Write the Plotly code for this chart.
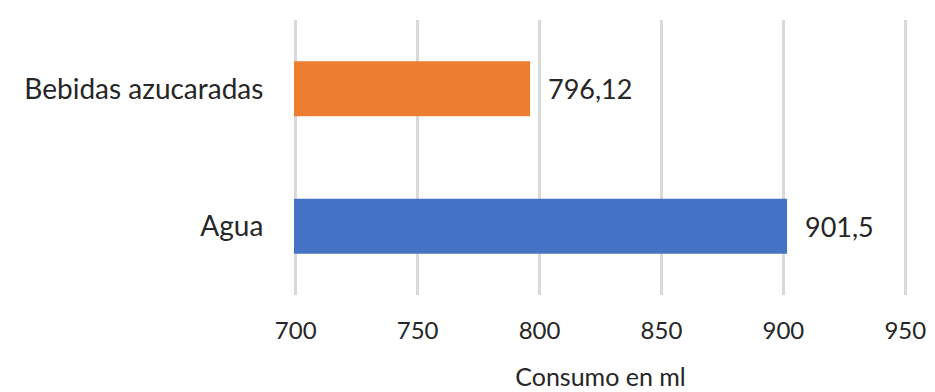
import plotly.graph_objects as go

categories = ["Agua", "Bebidas azucaradas"]
values = [901.5, 796.12]
colors = ["#4472C4", "#ED7D31"]
tick_vals = [700, 750, 800, 850, 900, 950]

labels = [f"{v:g}".replace(".", ",") for v in values]

fig = go.Figure(go.Bar(
    y=categories, x=values, orientation="h",
    marker=dict(color=colors, line=dict(width=0)),
))

for c, v, t in zip(categories, values, labels):
    fig.add_annotation(x=v, y=c, text=t, showarrow=False, xanchor="left",
                       xshift=16, font=dict(size=27, color="#262626"))

fig.update_layout(
    width=935, height=392,
    margin=dict(l=294, r=28, t=20, b=97),
    paper_bgcolor="white", plot_bgcolor="white",
    font=dict(family="Lato, Open Sans, sans-serif", size=23, color="#262626"),
    bargap=0.6,
    showlegend=False,
    xaxis=dict(
        range=[699.3, 950.7], tickvals=tick_vals,
        showgrid=True, gridcolor="#d9d9d9", gridwidth=3,
        zeroline=False, showline=False, automargin=False,
        ticks="outside", ticklen=14, tickcolor="rgba(0,0,0,0)",
        tickfont=dict(size=24),
        title=dict(text="Consumo en ml", font=dict(size=25), standoff=25),
    ),
    yaxis=dict(
        showgrid=False, zeroline=False, showline=False, automargin=False,
        ticks="outside", ticklen=24, tickcolor="rgba(0,0,0,0)",
        tickfont=dict(size=28),
    ),
)

fig.write_html("out.html")
